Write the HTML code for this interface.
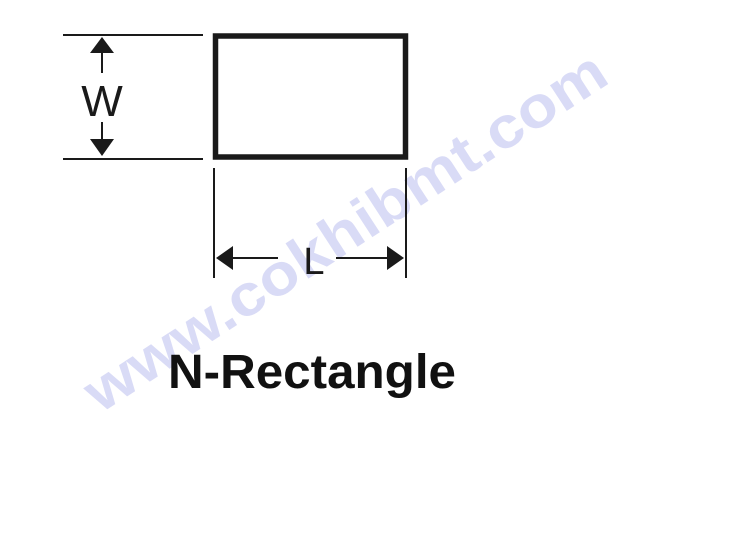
<!DOCTYPE html>
<html><head><meta charset="utf-8"><style>html,body{margin:0;padding:0;background:#fff;width:740px;height:540px;overflow:hidden}</style></head>
<body>
<svg width="740" height="540" viewBox="0 0 740 540" xmlns="http://www.w3.org/2000/svg">
<rect width="740" height="540" fill="#fff"/>
<text transform="translate(100,414) rotate(-33)" font-family="Liberation Sans, sans-serif" font-weight="bold" font-size="58" textLength="610" lengthAdjust="spacingAndGlyphs" fill="#cfd2f4" fill-opacity="0.8">www.cokhibmt.com</text>
<g stroke="#1a1a1a" fill="none">
<rect x="215.5" y="36" width="190" height="121" stroke-width="5.5"/>
<line x1="63" y1="35" x2="203" y2="35" stroke-width="2"/>
<line x1="63" y1="159" x2="203" y2="159" stroke-width="2"/>
<line x1="102" y1="50" x2="102" y2="73" stroke-width="2"/>
<line x1="102" y1="122" x2="102" y2="142" stroke-width="2"/>
<line x1="214" y1="168" x2="214" y2="278" stroke-width="2"/>
<line x1="406" y1="168" x2="406" y2="278" stroke-width="2"/>
<line x1="228" y1="258" x2="278" y2="258" stroke-width="2"/>
<line x1="336" y1="258" x2="390" y2="258" stroke-width="2"/>
</g>
<g fill="#1a1a1a">
<polygon points="102,37 90,53 114,53"/>
<polygon points="102,156 90,139 114,139"/>
<polygon points="216,258 233,246 233,270"/>
<polygon points="404,258 387,246 387,270"/>
</g>
<text x="102" y="116" text-anchor="middle" font-family="Liberation Sans, sans-serif" font-size="44" fill="#1a1a1a">W</text>
<text x="314" y="274" text-anchor="middle" font-family="Liberation Sans, sans-serif" font-size="38" fill="#1a1a1a">L</text>
<text x="168" y="388" font-family="Liberation Sans, sans-serif" font-weight="bold" font-size="48" textLength="288" lengthAdjust="spacingAndGlyphs" fill="#111">N-Rectangle</text>
</svg>
</body></html>
